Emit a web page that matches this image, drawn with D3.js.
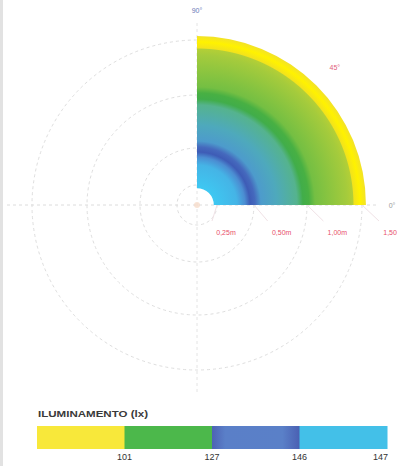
<!DOCTYPE html>
<html>
<head>
<meta charset="utf-8">
<script src="https://cdn.jsdelivr.net/npm/d3@7/dist/d3.min.js"></script>
<style>
  html, body { margin: 0; padding: 0; background: #fff; }
  svg { display: block; font-family: "Liberation Sans", Arial, sans-serif; }
</style>
</head>
<body>
<svg id="chart" width="397" height="466"></svg>
<script>
// Radial distance rings (m) and their labels
const ringValues = [0.25, 0.5, 1.0, 1.5];
const ringLabels = ["0,25m", "0,50m", "1,00m", "1,50m"];

// Angle labels (degrees)
const angleValues = [0, 45, 90];
const angleLabels = ["0°", "45°", "90°"];
const angleColors = ["#9a9a9a", "#e2607a", "#6a78b8"];

// Illuminance field across the quadrant: colour by distance from the luminaire (m)
const fieldRadius = [0.21, 0.385, 0.439, 0.473, 0.509, 0.566, 0.717, 0.906, 0.962, 1.018, 1.073, 1.364, 1.418, 1.427, 1.482, 1.536];
const fieldColor  = ["#3ec8f2", "#45b4e6", "#4b8dd2", "#3e5cb6", "#4569bd", "#4d9bcc", "#4ea9bc", "#55b38e", "#41ad4a", "#48b043", "#74bf43", "#a5cb3c", "#b3cf36", "#f2e31c", "#fff200", "#f2e22a"];

// Legend classes
const legendTitle = "ILUMINAMENTO (lx)";
const legendValues = [101, 127, 146, 147];
const legendColors = ["#f8e83a", "#4cb84b", "#5a7fc8", "#43c0e8"];

const svg = d3.select("#chart");
const defs = svg.append("defs");

// left frame stripe
svg.append("rect").attr("x", 0).attr("y", 0).attr("width", 3).attr("height", 466).attr("fill", "#e2e2e2");

const cx = 197, cy = 205;
const g = svg.append("g").attr("transform", `translate(${cx},${cy})`);

// radial scale (m -> px)
const r = d3.scaleLinear().domain([0, 0.25, 0.5, 1.0, 1.5]).range([0, 20, 57, 110, 165]);

// grid: dashed circles
g.selectAll("circle.grid").data(ringValues).join("circle")
  .attr("class", "grid")
  .attr("r", d => r(d))
  .attr("fill", "none")
  .attr("stroke", "#dedede")
  .attr("stroke-width", 1)
  .attr("stroke-dasharray", "3,3");

// grid: axis lines through the centre
const axisLen = r(1.5) + 25;
g.append("line").attr("x1", -axisLen).attr("x2", axisLen - 8).attr("y1", 0).attr("y2", 0)
  .attr("stroke", "#dcdcdc").attr("stroke-dasharray", "3,3");
g.append("line").attr("x1", 0).attr("x2", 0).attr("y1", -axisLen + 8).attr("y2", axisLen)
  .attr("stroke", "#e4e4e4").attr("stroke-dasharray", "3,3");

// quadrant field as one arc filled with a radial gradient
const rMin = fieldRadius[0], rMax = fieldRadius[fieldRadius.length - 1];
const pxMin = r(rMin), pxMax = r(rMax);
const fieldGrad = defs.append("radialGradient")
  .attr("id", "fieldGrad")
  .attr("gradientUnits", "userSpaceOnUse")
  .attr("cx", 0).attr("cy", 0).attr("fx", 0).attr("fy", 0)
  .attr("r", pxMax);
fieldGrad.selectAll("stop").data(fieldRadius).join("stop")
  .attr("offset", d => r(d) / pxMax)
  .attr("stop-color", (d, i) => fieldColor[i]);

const arc = d3.arc().startAngle(0).endAngle(Math.PI / 2);
g.append("path")
  .attr("d", arc({ innerRadius: pxMin, outerRadius: pxMax }))
  .attr("fill", "url(#fieldGrad)");

// small luminaire marker at the centre
g.append("circle").attr("r", 3).attr("fill", "#f6dccb").attr("opacity", 0.8);

// radius labels with leader lines
const labelX = d3.scalePoint().domain(ringLabels).range([29, 196]);
ringValues.forEach((v, i) => {
  const lx = labelX(ringLabels[i]);
  g.append("line")
    .attr("x1", r(v)).attr("y1", 0)
    .attr("x2", lx - 14).attr("y2", 16)
    .attr("stroke", "#f0e2e6").attr("stroke-width", 1);
  g.append("text")
    .attr("x", lx).attr("y", 30)
    .attr("text-anchor", "middle")
    .attr("font-size", 7)
    .attr("fill", "#e8506a")
    .text(ringLabels[i]);
});

// angle labels
const angR = r(1.5) + 30;
angleValues.forEach((a, i) => {
  const t = a * Math.PI / 180;
  g.append("text")
    .attr("x", Math.cos(t) * angR)
    .attr("y", -Math.sin(t) * angR + 3)
    .attr("text-anchor", "middle")
    .attr("font-size", 7)
    .attr("fill", angleColors[i])
    .text(angleLabels[i]);
});

// legend
const legX = 37, legW = 350, legY = 426, legH = 23;
svg.append("text").attr("x", 38).attr("y", 417)
  .attr("font-size", 8.5).attr("font-weight", "bold").attr("fill", "#3a3a3a")
  .attr("textLength", 110).attr("lengthAdjust", "spacingAndGlyphs")
  .text(legendTitle);

const band = d3.scaleBand().domain(legendValues).range([legX, legX + legW]).paddingInner(0);

const blueGrad = defs.append("linearGradient").attr("id", "blueGrad");
blueGrad.append("stop").attr("offset", "0%").attr("stop-color", "#4d63b4");
blueGrad.append("stop").attr("offset", "15%").attr("stop-color", "#5a7fc8");
blueGrad.append("stop").attr("offset", "80%").attr("stop-color", "#5a80c8");
blueGrad.append("stop").attr("offset", "100%").attr("stop-color", "#4a5fb2");

svg.append("g").selectAll("rect").data(legendValues).join("rect")
  .attr("x", d => band(d))
  .attr("y", legY)
  .attr("width", band.bandwidth() + 0.5)
  .attr("height", legH)
  .attr("fill", (d, i) => i === 2 ? "url(#blueGrad)" : legendColors[i]);

svg.append("g").selectAll("text").data(legendValues).join("text")
  .attr("x", (d, i) => i === legendValues.length - 1 ? band(d) + band.bandwidth() + 1 : band(d) + band.bandwidth())
  .attr("y", 460)
  .attr("text-anchor", (d, i) => i === legendValues.length - 1 ? "end" : "middle")
  .attr("font-size", 9)
  .attr("fill", "#333")
  .text(d => d);
</script>
</body>
</html>
